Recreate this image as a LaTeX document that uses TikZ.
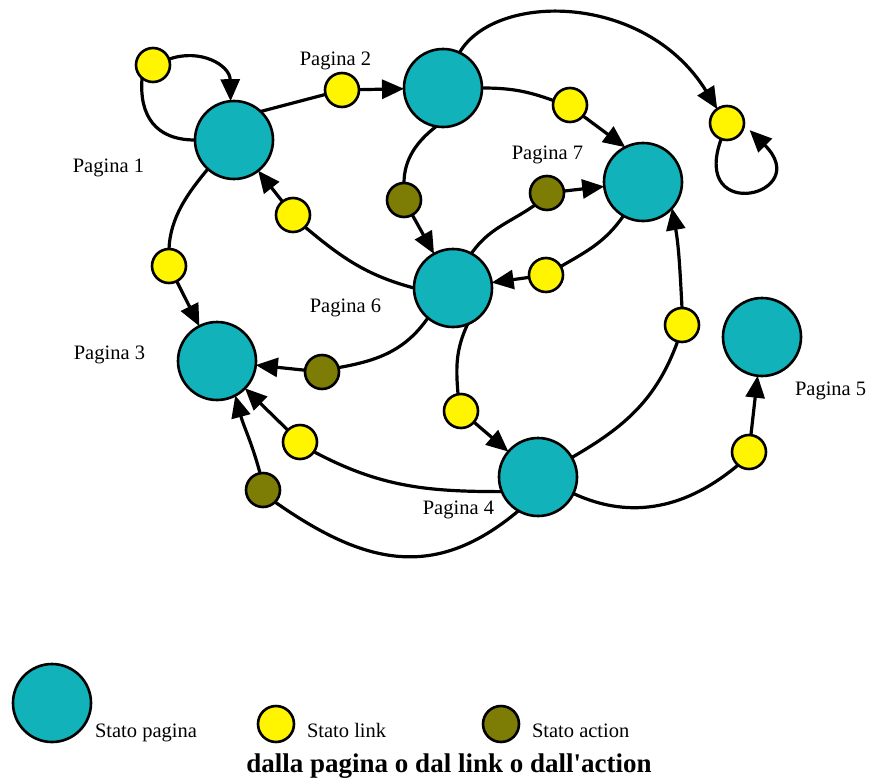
\documentclass[tikz,border=0pt]{standalone}
\usepackage{fontspec}
\setmainfont{Liberation Serif}
\newfontfamily\straightserif{Liberation Serif}
\usetikzlibrary{arrows.meta}
\definecolor{pagecol}{RGB}{18,178,186}
\definecolor{linkcol}{RGB}{255,245,0}
\definecolor{actcol}{RGB}{125,125,5}
\begin{document}
\begin{tikzpicture}[x=1pt,y=-1pt,
  every node/.style={inner sep=0pt, outer sep=0pt},
  pagenode/.style={circle, draw, line width=2.6pt, fill=pagecol, minimum size=78pt},
  linknode/.style={circle, draw, line width=2.6pt, fill=linkcol, minimum size=34pt},
  actnode/.style={circle, draw, line width=2.6pt, fill=actcol, minimum size=34pt},
  lbl/.style={font=\fontsize{20.5}{24}\selectfont},
  conn/.style={line width=3.2pt},
  arr/.style={conn, -{Triangle[length=22pt,width=19pt]}}]
\useasboundingbox (0,0) rectangle (869,779);

% page states
\node[pagenode] (P1) at (234,140) {};
\node[pagenode] (P2) at (443,88) {};
\node[pagenode] (P7) at (643,182) {};
\node[pagenode] (P6) at (453,288) {};
\node[pagenode] (P3) at (217,361) {};
\node[pagenode] (P4) at (538,477) {};
\node[pagenode] (P5) at (762,337) {};

% link states
\node[linknode] (Y1) at (153,65) {};
\node[linknode] (Y2) at (342,90) {};
\node[linknode] (Y3) at (570,105) {};
\node[linknode] (Y4) at (727,123) {};
\node[linknode] (Y5) at (293,215) {};
\node[linknode] (Y6) at (169,266) {};
\node[linknode] (Y7) at (546,275) {};
\node[linknode] (Y8) at (682,325) {};
\node[linknode] (Y9) at (461,411) {};
\node[linknode] (Y10) at (300,442) {};
\node[linknode] (Y11) at (749,452) {};

% action states
\node[actnode] (O1) at (404,200) {};
\node[actnode] (O2) at (547,193) {};
\node[actnode] (O3) at (322,372) {};
\node[actnode] (O4) at (263,490) {};

% labels
\node[lbl, anchor=base east] (L1) at (144,172) {Pagina 1};
\node[lbl, anchor=base east] (L2) at (371,65) {Pagina 2};
\node[lbl, anchor=base east] (L7) at (583,159) {Pagina 7};
\node[lbl, anchor=base east] (L6) at (381,312) {Pagina 6};
\node[lbl, anchor=base east] (L3) at (145,359) {Pagina 3};
\node[lbl, anchor=base east] (L4) at (494,514) {Pagina 4};
\node[lbl, anchor=base west] (L5) at (795,395) {Pagina 5};

% page 1 self link
\draw[conn] (P1.west) .. controls (155,140) and (139,115) .. (Y1.-130);
\draw[arr] (Y1.20) .. controls (200,48) and (230,65) .. (P1.95);

% page 1 -> page 2
\draw[conn] (P1.47) -- (Y2.195);
\draw[arr] (Y2) -- (P2);

% page 2 -> page 7
\draw[conn] (P2.east) to[out=0,in=160] (Y3.165);
\draw[arr] (Y3.-40) -- (P7.117);

% page 2 -> isolated link with self loop
\draw[arr] (P2.65) .. controls (495,-8) and (645,-8) .. (Y4.125);
\draw[arr, shorten >=8pt] (Y4.250) .. controls (690,225) and (815,195) .. (Y4.-5);

% page 2 -> page 6 through an action
\draw[conn] (P2.-100) .. controls (416,142) and (404,160) .. (O1.north);
\draw[arr] (O1) -- (P6);

% page 6 -> page 1
\draw[conn] (P6.west) to[out=165,in=-40] (Y5.-45);
\draw[arr] (Y5) -- (P1);

% page 1 -> page 3
\draw[conn] (P1.-132) to[out=-130,in=88,looseness=0.9] (Y6.north);
\draw[arr] (Y6) -- (P3);

% page 6 -> page 7 through an action
\draw[conn] (P6.62) to[out=55,in=-145] (O2.-135);
\draw[arr] (O2) -- (P7);

% page 7 -> page 6
\draw[conn] (P7.-120) to[out=-125,in=30] (Y7.30);
\draw[arr] (Y7) -- (P6);

% page 6 -> page 3 through an action
\draw[conn] (P6.-130) to[out=-125,in=10] (O3.15);
\draw[arr] (O3) -- (P3);

% page 6 -> page 4
\draw[conn] (P6.-68) to[out=-115,in=95] (Y9.100);
\draw[arr] (Y9) -- (P4);

% page 4 -> page 7
\draw[conn] (P4.30) to[out=30,in=-110] (Y8.-105);
\draw[arr] (Y8.north) to[out=93,in=-80] (P7.-42);

% page 4 -> page 3
\draw[conn] (P4.-158) to[out=180,in=-28] (Y10.-35);
\draw[arr] (Y10) -- (P3);

% page 4 -> page 3 through an action
\draw[conn] (P4.-120) to[out=-140,in=-35,looseness=1.15] (O4.-45);
\draw[arr] (O4.100) to[out=105,in=-75] (P3.-62);

% page 4 -> page 5
\draw[conn] (P4.-25) to[out=-25,in=-140] (Y11.-130);
\draw[arr] (Y11) -- (P5);

% legend
\node[circle, draw, line width=2.6pt, fill=pagecol, minimum size=78pt] (K1) at (52,703) {};
\node[lbl, anchor=base west] (K1t) at (95,737) {Stato pagina};
\node[linknode, minimum size=36pt] (K2) at (276,724) {};
\node[lbl, anchor=base west] (K2t) at (307,737) {Stato link};
\node[actnode, minimum size=36pt] (K3) at (501,724) {};
\node[lbl, anchor=base west] (K3t) at (532,737) {Stato action};
\node[font=\straightserif\fontsize{27}{30}\selectfont\bfseries, anchor=base] (K4) at (449,772) {dalla pagina o dal link o dall'action};
\end{tikzpicture}
\end{document}
